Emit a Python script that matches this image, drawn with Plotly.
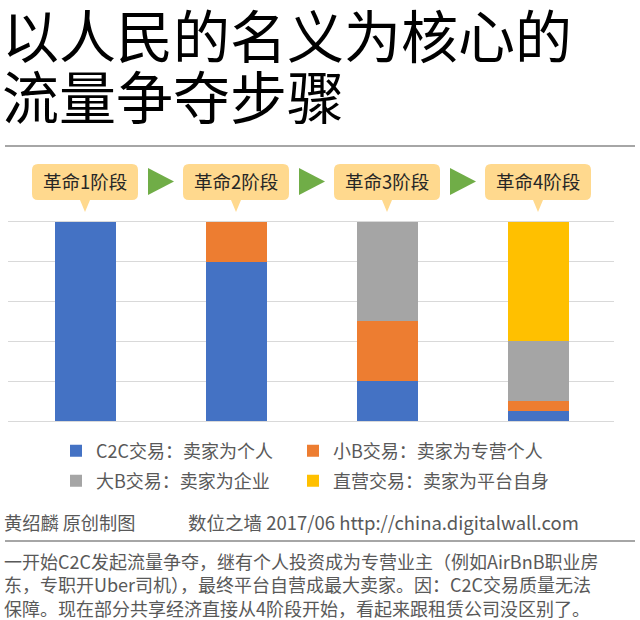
import plotly.graph_objects as go

stages = ["革命1阶段", "革命2阶段", "革命3阶段", "革命4阶段"]
c2c = [100, 80, 20, 5]
small_b = [0, 20, 30, 5]
big_b = [0, 0, 50, 30]
direct = [0, 0, 0, 60]
names = ["C2C交易：卖家为个人", "小B交易：卖家为专营个人", "大B交易：卖家为企业", "直营交易：卖家为平台自身"]
colors = ["#4472C4", "#ED7D31", "#A5A5A5", "#FFC000"]
title_lines = ["以人民的名义为核心的", "流量争夺步骤"]
credit_left = "黄绍麟 原创制图"
credit_right = "数位之墙 2017/06 http://china.digitalwall.com"
body_lines = [
    "一开始C2C发起流量争夺，继有个人投资成为专营业主（例如AirBnB职业房",
    "东，专职开Uber司机），最终平台自营成最大卖家。因：C2C交易质量无法",
    "保障。现在部分共享经济直接从4阶段开始，看起来跟租赁公司没区别了。",
]

W, H = 640, 620
L, R, T, B = 8, 614, 182, 421
FONT = "Noto Sans CJK SC"
px = lambda x: (x - L) / (R - L)
py = lambda y: (B - y) / (B - T)

fig = go.Figure()
legend_ids = ["legend", "legend2", "legend3", "legend4"]
for name, vals, col, lg in zip(names, [c2c, small_b, big_b, direct], colors, legend_ids):
    fig.add_bar(x=stages, y=vals, name=name, marker=dict(color=col, line_width=0), width=0.4,
                legend=lg, showlegend=True)

shapes = []
annos = []


def text(x, y, s, size, color, anchor="left"):
    annos.append(dict(x=px(x), y=py(y), xref="paper", yref="paper", text=s, showarrow=False,
                      xanchor=anchor, yanchor="middle", align=anchor,
                      font=dict(family=FONT, size=size, color=color)))


def rule(y):
    shapes.append(dict(type="line", xref="paper", yref="paper", x0=px(5), x1=px(635), y0=py(y), y1=py(y),
                       line=dict(color="#A6A6A6", width=2)))


rule(146)
rule(541)

for i, stage in enumerate(stages):
    cx = 85 + 151 * i
    x0, x1, y0, y1 = cx - 53, cx + 53, 164, 200
    r = 6
    X, Y = px, py
    path = (
        f"M {X(x0 + r)} {Y(y0)} L {X(x1 - r)} {Y(y0)} Q {X(x1)} {Y(y0)} {X(x1)} {Y(y0 + r)} "
        f"L {X(x1)} {Y(y1 - r)} Q {X(x1)} {Y(y1)} {X(x1 - r)} {Y(y1)} "
        f"L {X(cx + 5)} {Y(y1)} L {X(cx)} {Y(212)} L {X(cx - 5)} {Y(y1)} "
        f"L {X(x0 + r)} {Y(y1)} Q {X(x0)} {Y(y1)} {X(x0)} {Y(y1 - r)} "
        f"L {X(x0)} {Y(y0 + r)} Q {X(x0)} {Y(y0)} {X(x0 + r)} {Y(y0)} Z"
    )
    shapes.append(dict(type="path", xref="paper", yref="paper", path=path,
                       fillcolor="#FFD98E", line_width=0, layer="above"))
    text(cx, 181, stage, 18.5, "#262626", "center")
    if i < 3:
        a = 148 + 151 * i
        tri = f"M {X(a)} {Y(168)} L {X(a + 26)} {Y(181.5)} L {X(a)} {Y(195)} Z"
        shapes.append(dict(type="path", xref="paper", yref="paper", path=tri,
                           fillcolor="#70AD47", line_width=0, layer="above"))

text(0, 33, title_lines[0], 57, "#000000")
text(0, 94, title_lines[1], 57, "#000000")
text(2, 522, credit_left, 18.2, "#595959")
text(186, 522, credit_right, 18.5, "#595959")
text(2, 584, "<br>".join(body_lines), 18, "#595959")

legend_common = dict(xanchor="left", yanchor="middle", traceorder="normal",
                     font=dict(family=FONT, size=18, color="#595959"), bgcolor="rgba(0,0,0,0)")

fig.update_layout(
    width=W, height=H, autosize=False, showlegend=True,
    margin=dict(l=L, r=W - R, t=T, b=H - B, pad=0),
    barmode="stack",
    paper_bgcolor="white", plot_bgcolor="white",
    font=dict(family=FONT),
    shapes=shapes, annotations=annos,
    legend=dict(x=px(56), y=py(451), **legend_common),
    legend2=dict(x=px(293), y=py(451), **legend_common),
    legend3=dict(x=px(56), y=py(481), **legend_common),
    legend4=dict(x=px(293), y=py(481), **legend_common),
    xaxis=dict(range=[-0.512, 3.501], showticklabels=False, ticks="", showline=False, showgrid=False),
    yaxis=dict(range=[0, 120], dtick=20, showticklabels=False, ticks="", gridcolor="#D9D9D9", gridwidth=1,
               zeroline=True, zerolinecolor="#D9D9D9", zerolinewidth=1),
)
fig.write_html("out.html", config=dict(displayModeBar=False),
               post_script="document.body.style.margin='0';document.documentElement.style.overflow='hidden';")
